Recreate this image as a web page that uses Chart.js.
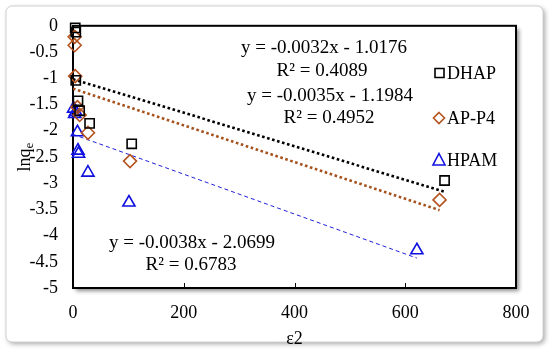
<!DOCTYPE html>
<html lang="en">
<head>
  <meta charset="UTF-8">
  <title>lnqe vs e2</title>
  <script src="https://cdn.jsdelivr.net/npm/chart.js"></script>
  <style>
    html, body { margin: 0; padding: 0; background: #ffffff; }
    #wrap { position: relative; width: 550px; height: 350px; }
  </style>
</head>
<body>
  <div id="wrap"><canvas id="chart" width="550" height="350"></canvas></div>

  <script>
    // data
    const dhapX = [4, 5, 5, 9, 12, 30, 106, 671];
    const dhapY = [-0.04, -0.12, -1.04, -1.43, -1.62, -1.86, -2.25, -2.95];

    const apX = [3, 3, 4, 8, 12, 27, 103, 662];
    const apY = [-0.21, -0.37, -0.96, -1.55, -1.7, -2.04, -2.58, -3.32];

    const hpamX = [1, 3, 5, 8, 9, 10, 27, 101, 621];
    const hpamY = [-1.58, -1.68, -1.64, -2.03, -2.38, -2.44, -2.8, -3.37, -4.28];

    // trendline coefficients (slope, intercept) shown on the chart
    const slopes = [-0.0032, -0.0035, -0.0038];
    const intercepts = [-1.0176, -1.1984, -2.0699];
    const eqLabels = [
      ['y = -0.0032x - 1.0176', 'R² = 0.4089'],
      ['y = -0.0035x - 1.1984', 'R² = 0.4952'],
      ['y = -0.0038x - 2.0699', 'R² = 0.6783']
    ];
    const seriesNames = ['DHAP', 'AP-P4', 'HPAM'];

    const xTicks = [0, 200, 400, 600, 800];
    const yMin = -5, yMax = 0, yStep = 0.5;

    const colors = ['#000000', '#b4531f', '#1010e0'];
    const lineColors = ['#000000', '#a5521e', '#2020d8'];
    const styles = ['rect', 'rectRot', 'triangle'];

    const toPts = (xs, ys) => xs.map((x, i) => ({ x: x, y: ys[i] }));
    const trend = (k, xs) => {
      const b = Math.max(...xs);
      return [{ x: 0, y: intercepts[k] }, { x: b, y: slopes[k] * b + intercepts[k] }];
    };

    const serif = '"Liberation Serif", "Times New Roman", serif';

    const framePlugin = {
      id: 'frame',
      beforeDraw(chart) {
        const ctx = chart.ctx;
        ctx.save();
        ctx.fillStyle = '#ffffff';
        ctx.fillRect(0, 0, chart.width, chart.height);
        ctx.shadowColor = 'rgba(0,0,0,0.35)';
        ctx.shadowBlur = 5;
        ctx.shadowOffsetX = 2;
        ctx.shadowOffsetY = 2;
        ctx.beginPath();
        ctx.roundRect(6, 6, 537, 336, 6);
        ctx.fillStyle = '#ffffff';
        ctx.fill();
        ctx.shadowColor = 'transparent';
        ctx.strokeStyle = '#d0d0d0';
        ctx.lineWidth = 1;
        ctx.stroke();
        ctx.restore();
      },
      beforeDatasetsDraw(chart) {
        const ctx = chart.ctx;
        const a = chart.chartArea;
        ctx.save();
        ctx.shadowColor = 'rgba(0,0,0,0.45)';
        ctx.shadowBlur = 4;
        ctx.shadowOffsetX = 3;
        ctx.shadowOffsetY = 3;
        ctx.fillStyle = '#ffffff';
        ctx.fillRect(a.left, a.top, a.right - a.left, a.bottom - a.top);
        ctx.shadowColor = 'transparent';
        ctx.strokeStyle = '#000000';
        ctx.lineWidth = 2;
        ctx.strokeRect(a.left, a.top, a.right - a.left, a.bottom - a.top);
        // inside ticks on x axis
        const xs = chart.scales.x;
        ctx.lineWidth = 1;
        xTicks.slice(1, -1).forEach(v => {
          const px = Math.round(xs.getPixelForValue(v)) + 0.5;
          ctx.beginPath();
          ctx.moveTo(px, a.bottom);
          ctx.lineTo(px, a.bottom - 5);
          ctx.stroke();
        });
        ctx.restore();
      },
      afterDraw(chart) {
        const ctx = chart.ctx;
        ctx.save();
        ctx.fillStyle = '#000000';
        ctx.textAlign = 'center';
        ctx.textBaseline = 'middle';
        ctx.font = '19px ' + serif;
        // equations
        ctx.fillText(eqLabels[0][0], 324, 48);
        ctx.fillText(eqLabels[0][1], 322, 71);
        ctx.fillText(eqLabels[1][0], 330, 96);
        ctx.fillText(eqLabels[1][1], 329, 118);
        ctx.fillText(eqLabels[2][0], 192, 243);
        ctx.fillText(eqLabels[2][1], 191, 265);

        // legend
        ctx.font = '18px ' + serif;
        ctx.textAlign = 'left';
        const ly = [73, 118, 160];
        ly.forEach((y, i) => {
          ctx.strokeStyle = colors[i];
          ctx.lineWidth = 1.6;
          ctx.beginPath();
          if (i === 0) ctx.rect(435, y - 4.5, 9, 9);
          if (i === 1) { ctx.moveTo(439, y - 5.5); ctx.lineTo(444.5, y); ctx.lineTo(439, y + 5.5); ctx.lineTo(433.5, y); ctx.closePath(); }
          if (i === 2) { ctx.moveTo(439, y - 6.5); ctx.lineTo(445, y + 5); ctx.lineTo(433, y + 5); ctx.closePath(); }
          ctx.stroke();
          ctx.fillStyle = '#000000';
          ctx.fillText(seriesNames[i], 447, y + 1);
        });

        // y axis title with subscript e
        ctx.translate(24, 156);
        ctx.rotate(-Math.PI / 2);
        ctx.textAlign = 'left';
        ctx.textBaseline = 'alphabetic';
        ctx.font = '18px ' + serif;
        const w = ctx.measureText('lnq').width;
        const w2 = w + 8;
        ctx.fillText('lnq', -w2 / 2, 6);
        ctx.font = '13px ' + serif;
        ctx.fillText('e', -w2 / 2 + w, 9);
        ctx.restore();
      }
    };

    const ds = [
      { x: dhapX, y: dhapY }, { x: apX, y: apY }, { x: hpamX, y: hpamY }
    ];

    const datasets = [];
    ds.forEach((d, k) => {
      datasets.push({
        type: 'line',
        label: seriesNames[k] + ' trend',
        data: trend(k, d.x),
        borderColor: lineColors[k],
        borderWidth: k === 2 ? 1 : 2.6,
        borderDash: k === 2 ? [4, 3] : [2.6, 2.6],
        pointRadius: 0,
        fill: false,
        order: 2
      });
    });
    ds.forEach((d, k) => {
      datasets.push({
        type: 'scatter',
        label: seriesNames[k],
        data: toPts(d.x, d.y),
        pointStyle: styles[k],
        pointRadius: k === 2 ? 7 : 6.5,
        pointBorderWidth: 1.6,
        pointBorderColor: colors[k],
        pointBackgroundColor: 'rgba(255,255,255,0)',
        clip: false,
        order: 1
      });
    });

    new Chart(document.getElementById('chart').getContext('2d'), {
      data: { datasets: datasets },
      options: {
        responsive: false,
        animation: false,
        layout: { padding: { left: 0, right: 34, top: 24, bottom: 0 } },
        plugins: {
          legend: { display: false },
          tooltip: { enabled: false }
        },
        scales: {
          x: {
            type: 'linear',
            min: 0, max: 800,
            afterBuildTicks: s => { s.ticks = xTicks.map(v => ({ value: v })); },
            grid: { display: false, drawTicks: false },
            border: { display: false },
            ticks: { color: '#000', padding: 14, font: { family: serif, size: 18 } },
            title: { display: true, text: 'ε2', color: '#000', padding: { top: -6, bottom: 0 }, font: { family: serif, size: 18 } },
            afterFit: s => { s.height = 62; }
          },
          y: {
            type: 'linear',
            min: yMin, max: yMax,
            ticks: {
              stepSize: yStep, color: '#000', padding: 15, font: { family: serif, size: 18 },
              callback: v => String(Math.round(v * 10) / 10)
            },
            grid: { display: false, drawTicks: false },
            border: { display: false },
            afterFit: s => { s.width = 73; }
          }
        }
      },
      plugins: [framePlugin]
    });
  </script>
</body>
</html>
